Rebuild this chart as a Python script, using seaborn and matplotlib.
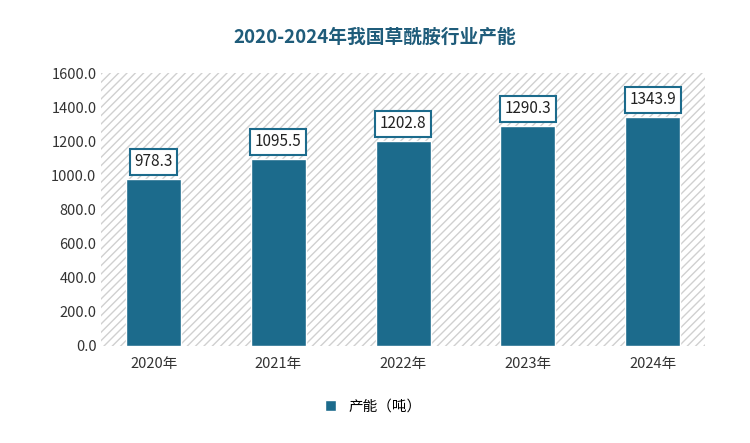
import matplotlib
matplotlib.use("Agg")
import matplotlib.pyplot as plt
from matplotlib import font_manager as fm
import seaborn as sns
import pandas as pd
import glob

years = ["2020年", "2021年", "2022年", "2023年", "2024年"]
capacity = [978.3, 1095.5, 1202.8, 1290.3, 1343.9]
series_name = "产能（吨）"
title = "2020-2024年我国草酰胺行业产能"

fam = "DejaVu Sans"
for f in glob.glob("/usr/share/fonts/**/*CJK*", recursive=True):
    try:
        fm.fontManager.addfont(f)
    except Exception:
        pass
names = {f.name for f in fm.fontManager.ttflist}
for n in ["Noto Sans CJK SC", "Noto Sans CJK JP", "Noto Sans SC"]:
    if n in names:
        fam = n
        break
plt.rcParams["font.family"] = [fam, "DejaVu Sans"]
plt.rcParams["hatch.color"] = "#d8d8d8"
df = pd.DataFrame({"year": years, "value": capacity, "s": series_name})

fig = plt.figure(figsize=(7.5, 4.43), dpi=100)
ax = fig.add_axes([0.135, 0.22, 0.805, 0.615])
ax.add_patch(plt.Rectangle((0, 0), 1, 1, transform=ax.transAxes, facecolor="white",
                           edgecolor="#d0d0d0", hatch="////", lw=0, zorder=0))
color = "#1c6b8c"
sns.barplot(data=df, x="year", y="value", hue="s", palette=[color], width=0.44,
            ax=ax, zorder=2, edgecolor="white", linewidth=1, saturation=1)
ax.set_xlim(-0.42, 4.42)
ax.set_ylim(0, 1600)
ax.set_yticks(range(0, 1601, 200))
ax.set_yticklabels([f"{v:.1f}" for v in range(0, 1601, 200)], fontsize=10.5, color="#333")
ax.tick_params(axis="x", labelsize=10.5, colors="#333", length=0, pad=8)
ax.tick_params(axis="y", length=0)
ax.set_xlabel(""); ax.set_ylabel("")
for s in ax.spines.values():
    s.set_visible(False)
for i, v in enumerate(capacity):
    ax.text(i, v + 100, f"{v:.1f}", ha="center", va="center", fontsize=11, color="#222",
            bbox=dict(boxstyle="square,pad=0.3", fc="white", ec=color, lw=1.5), zorder=5)
leg = ax.legend(loc="upper center", bbox_to_anchor=(0.45, -0.15), frameon=False,
                fontsize=10.5, handlelength=0.8, handleheight=0.8)
fig.text(0.5, 0.915, title, ha="center", va="center", fontsize=13.5,
         fontweight="bold", color="#1f5c7a")
fig.savefig("out.png", dpi=100)
